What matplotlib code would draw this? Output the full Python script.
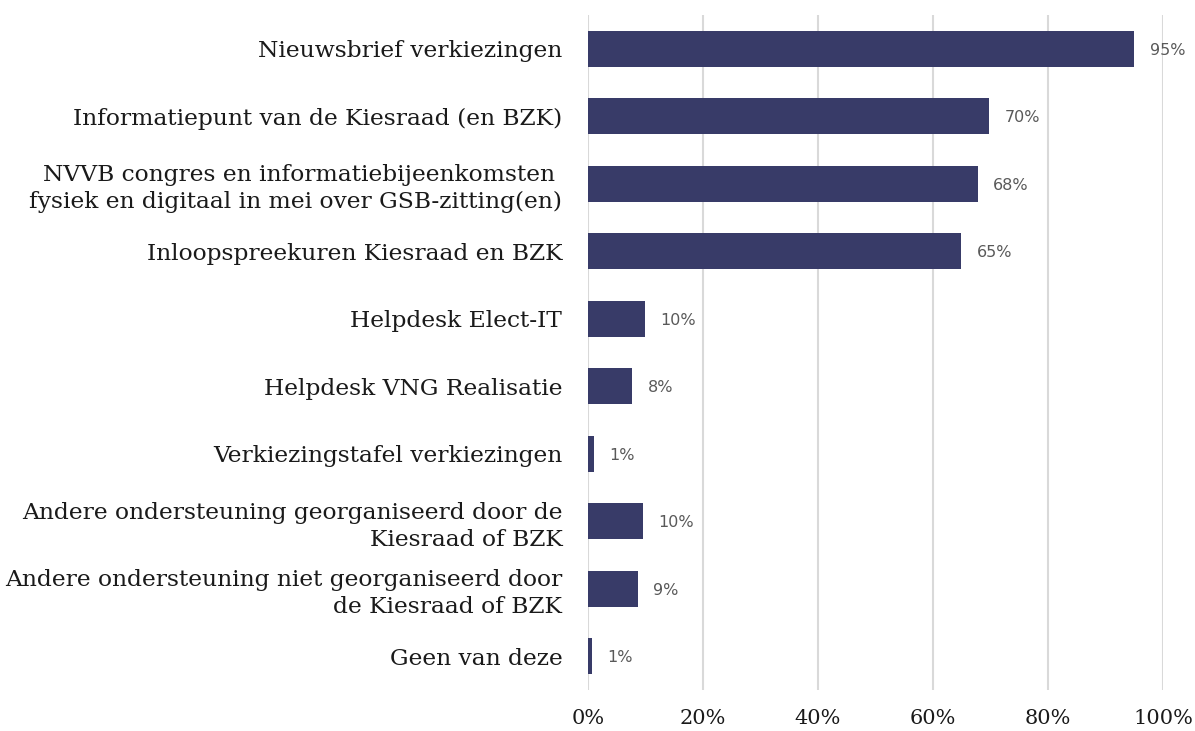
import matplotlib
matplotlib.use("Agg")
import matplotlib.pyplot as plt
from matplotlib.ticker import FuncFormatter

categories = [
    "Nieuwsbrief verkiezingen",
    "Informatiepunt van de Kiesraad (en BZK)",
    "NVVB congres en informatiebijeenkomsten \nfysiek en digitaal in mei over GSB-zitting(en)",
    "Inloopspreekuren Kiesraad en BZK",
    "Helpdesk Elect-IT",
    "Helpdesk VNG Realisatie",
    "Verkiezingstafel verkiezingen",
    "Andere ondersteuning georganiseerd door de\nKiesraad of BZK",
    "Andere ondersteuning niet georganiseerd door\nde Kiesraad of BZK",
    "Geen van deze",
]
values = [95.0, 69.8, 67.8, 64.9, 9.9, 7.7, 1.0, 9.6, 8.7, 0.7]
value_labels = ["95%", "70%", "68%", "65%", "10%", "8%", "1%", "10%", "9%", "1%"]
xticks = [0, 20, 40, 60, 80, 100]

fig = plt.figure(figsize=(11.95, 7.31), dpi=100)
ax = fig.add_axes([588/1195, 1-690/731, (1163-588)/1195, (690-15)/731])

y = list(range(len(categories)))
ax.barh(y, values, height=0.54, color="#383B68", zorder=3)
for yi, v, lab in zip(y, values, value_labels):
    ax.annotate(lab, xy=(v, yi), xytext=(11, -1), textcoords="offset points",
                va="center", ha="left", fontsize=11.5, color="#595959",
                family="DejaVu Sans")

ax.set_xlim(0, 100)
ax.set_ylim(len(categories) - 0.5, -0.5)
ax.set_xticks(xticks)
ax.xaxis.set_major_formatter(FuncFormatter(lambda v, p: f"{int(v)}%"))
ax.set_yticks(y)
ax.set_yticklabels(categories, family="DejaVu Serif", fontsize=16.8, color="#1a1a1a",
                   linespacing=1.3)
for t in ax.get_xticklabels():
    t.set_family("DejaVu Serif")
    t.set_fontsize(15)
    t.set_color("#1a1a1a")
ax.tick_params(axis="both", length=0)
ax.tick_params(axis="y", pad=18.5)
ax.tick_params(axis="x", pad=14)
ax.grid(axis="x", color="#d9d9d9", linewidth=1.5, zorder=0)
for s in ax.spines.values():
    s.set_visible(False)

fig.savefig("out.png", dpi=100)
